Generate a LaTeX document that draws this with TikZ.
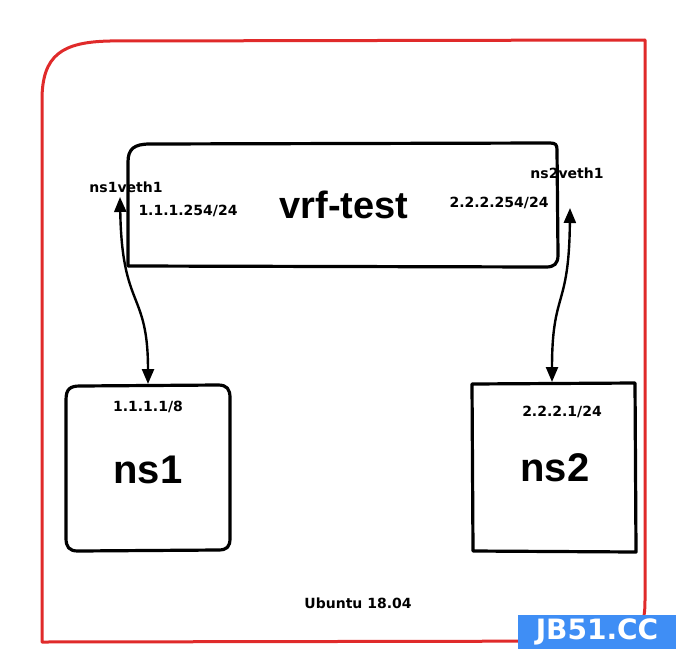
\documentclass[tikz,border=0pt]{standalone}
\usepackage{fontspec}
\setmainfont{Liberation Sans}
\newfontfamily\lblfont{DejaVu Sans}
\usetikzlibrary{arrows.meta}
\definecolor{frame}{HTML}{E02A2A}
\definecolor{wm}{HTML}{3F8EF5}
\begin{document}
\begin{tikzpicture}[x=1pt,y=-1pt,
  sk/.style={line width=3.2pt,line cap=round,line join=round},
  lbl/.style={font=\lblfont\bfseries\fontsize{14}{16}\selectfont,inner sep=0pt},
  big/.style={font=\bfseries\fontsize{40}{44}\selectfont,inner sep=0pt},
  con/.style={line width=2.4pt,{Triangle[length=15pt,width=12pt]}-{Triangle[length=15pt,width=12pt]}}]
\useasboundingbox (0,0) rectangle (676,669);
\fill[white] (0,0) rectangle (676,669);
% Ubuntu frame
\draw[frame,line width=3pt,line join=round] (42,642) -- (42,100) .. controls (42,55) and (62,42) .. (110,41) -- (645,40) -- (645,600) .. controls (645,625) and (640,636) .. (620,641) -- cycle;
% vrf-test box
\draw[sk] (128,162) .. controls (128,149) and (134,144) .. (150,144) -- (550,143) .. controls (556,143) and (557,145) .. (557,150) -- (558,255) .. controls (558,264) and (554,267) .. (546,267) -- (128,266) -- cycle;
\node[big,font=\bfseries\fontsize{38}{44}\selectfont] (vrf) at (344,205) {vrf-test};
\node[lbl] (l1) at (126,187) {ns1veth1};
\node[lbl] (a1) at (188,211) {1.1.1.254/24};
\node[lbl] (l2) at (567,173) {ns2veth1};
\node[lbl] (a2) at (499,203) {2.2.2.254/24};
% ns1 box
\draw[sk] (66,400) .. controls (66,389) and (70,386) .. (80,386) -- (218,385) .. controls (227,385) and (230,389) .. (230,398) -- (230,538) .. controls (230,547) and (227,550) .. (218,550) -- (78,551) .. controls (69,551) and (66,547) .. (66,538) -- cycle;
\coordinate (ns1top) at (148,384);
\node[lbl] (ip1) at (148,407) {1.1.1.1/8};
\node[big] (ns1) at (148,470) {ns1};
% ns2 box
\draw[sk] (472,384) -- (635,383) -- (636,552) -- (473,551) -- cycle;
\coordinate (ns2top) at (552,382);
\node[lbl] (ip2) at (562,412) {2.2.2.1/24};
\node[big] (ns2) at (555,468) {ns2};
% connectors
\coordinate (p1) at (120,197);
\coordinate (p2) at (570,208);
\draw[con] (p1) .. controls (122,310) and (148,290) .. (ns1top);
\draw[con] (p2) .. controls (569,310) and (552,290) .. (ns2top);
% footer
\node[lbl] (ub) at (358,603) {Ubuntu 18.04};
% watermark
\fill[wm] (518,615) rectangle (676,649);
\node[font=\lblfont\bfseries\fontsize{28}{30}\selectfont,text=white,inner sep=0pt] (wmt) at (597,632) {JB51.CC};
\end{tikzpicture}
\end{document}
